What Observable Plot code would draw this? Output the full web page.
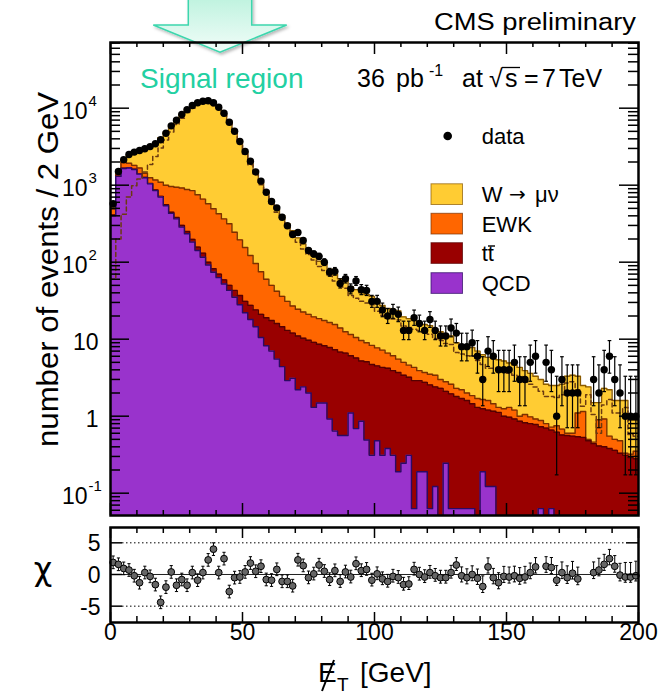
<!DOCTYPE html>
<html>
<head>
<meta charset="utf-8">
<script src="https://cdn.jsdelivr.net/npm/d3@7"></script>
<script src="https://cdn.jsdelivr.net/npm/@observablehq/plot@0.6"></script>
<style>
  html, body { margin: 0; padding: 0; background: #fff; }
  #wrap { position: relative; width: 664px; height: 694px; overflow: hidden; background: #fff; }
  #deco, #main, #ratio, #over { position: absolute; left: 0; }
  #deco { top: 0; }
  #main { top: 0; }
  #ratio { top: 520px; }
  #over { top: 0; }
  svg text { font-family: "Liberation Sans", Arial, Helvetica, sans-serif; }
</style>
</head>
<body>
<div id="wrap">
  <svg id="deco" width="664" height="120"></svg>
  <div id="main"></div>
  <div id="ratio"></div>
  <svg id="over" width="664" height="694"></svg>
</div>
<script>
// ================= DATA =================
const binWidthGeV = 2;   // 100 bins, 0..200 GeV

// stacked histogram tops (cumulative, as drawn): QCD, +ttbar, +EWK, +W->munu
const stackTopQCD = [
  400, 1300, 1650, 1670, 1600, 1390, 1250, 1040, 850, 700,
  540, 430, 365, 285, 234, 182, 142, 116, 92, 74,
  63, 52, 43, 35, 28, 22, 18, 14.5, 10.5, 8.2,
  7.0, 5.5, 4.4, 2.9, 3.1, 2.2, 2.4, 2.0, 1.3, 1.48,
  1.48, 0.92, 0.64, 0.56, 0.56, 1.1, 0.69, 0.86, 0.49, 0.31,
  0.48, 0.31, 0.38, 0.31, 0.19, 0.245, 0.31, 0.063, 0.19, 0.19,
  0.063, 0.122, 0, 0.245, 0.063, 0.063, 0.063, 0.063, 0.063, 0,
  0.19, 0.122, 0.122, 0, 0, 0, 0, 0, 0, 0,
  0, 0.063, 0, 0.063, 0, 0, 0, 0, 0, 0,
  0, 0, 0, 0, 0, 0, 0, 0, 0, 0];
const stackTopTT = [
  410, 1310, 1660, 1680, 1612, 1402, 1263, 1054, 865, 716,
  556, 446, 381, 301, 250, 198, 157, 131, 100, 82,
  70, 59, 50, 43, 37, 31, 27.5, 24, 21, 19,
  17.5, 16, 14.5, 13, 12, 11, 10.3, 9.7, 9.1, 8.6,
  8.2, 7.8, 7.3, 6.8, 6.6, 6.1, 5.7, 5.2, 5.1, 4.7,
  4.5, 4.3, 4.2, 3.9, 3.7, 3.4, 3.2, 2.9, 2.9, 2.75,
  2.55, 2.4, 2.3, 2.1, 1.95, 1.8, 1.7, 1.6, 1.45, 1.3,
  1.25, 1.2, 1.16, 1.12, 1.0, 0.97, 0.92, 0.86, 0.82, 0.8,
  0.78, 0.73, 0.7, 0.66, 0.62, 0.57, 0.56, 0.55, 0.54, 0.53,
  0.48, 0.44, 0.41, 0.40, 0.38, 0.36, 0.33, 0.31, 0.29, 0.28];
const stackTopEWK = [
  490, 1390, 1990, 1930, 1810, 1670, 1430, 1250, 1170, 1090,
  1000, 960, 940, 920, 880, 850, 750, 660, 575, 495,
  425, 365, 315, 245, 195, 155, 122, 96, 75, 60,
  50, 42, 36, 31, 27, 24.5, 22.5, 21, 19.5, 18.5,
  17.5, 16.5, 15.5, 14, 12.5, 11.5, 10.5, 9.6, 9.0, 8.3,
  7.7, 7.2, 6.6, 6.1, 5.5, 5.0, 4.6, 4.3, 3.9, 3.7,
  3.5, 3.4, 3.0, 2.8, 2.6, 2.3, 2.2, 2.0, 1.85, 1.7,
  1.65, 1.6, 1.45, 1.3, 1.25, 1.3, 1.2, 1.0, 1.05, 0.98,
  0.92, 0.88, 0.8, 0.72, 0.75, 0.68, 0.6, 0.6, 1.1, 1.15,
  0.5, 0.46, 0.9, 0.92, 0.55, 0.5, 0.48, 0.33, 0.32, 0.35];
const stackTopW = [
  520, 1445, 2150, 2470, 2700, 2890, 2955, 3187, 3544, 4150,
  4870, 5870, 7120, 8350, 9700, 10810, 11850, 12300, 12220, 11320,
  10270, 8380, 6800, 5055, 3725, 2720, 1970, 1470, 1086, 834,
  636, 490, 405, 316, 256, 207, 172, 148, 127, 103,
  95, 81, 71, 61, 58, 48, 44, 40, 38, 36,
  30.5, 27.4, 25, 24.4, 23.3, 19.5, 18.5, 17.5, 16.5, 15.5,
  15, 13.5, 12.5, 11.5, 11, 9, 8.5, 8, 7.8, 7,
  6.3, 5.8, 5.6, 5.4, 5.2, 4.9, 4.6, 4.3, 3.9, 3.6,
  3.3, 3.0, 2.6, 2.5, 2.5, 2.6, 3.3, 3.4, 3.3, 2.5,
  2.4, 1.5, 1.5, 2.3, 2.2, 1.6, 1.6, 1.6, 0.9, 0.9];
// dashed curve (W -> mu nu shape, unstacked)
const signalShape = [
  60, 200, 420, 700, 980, 1200, 1480, 1850, 2350, 3050,
  3850, 4900, 6150, 7400, 8800, 9950, 11000, 11550, 11550, 10750,
  9800, 7950, 6420, 4750, 3500, 2550, 1840, 1370, 1010, 770,
  580, 445, 365, 283, 228, 182, 148, 126, 107, 88,
  78, 66, 57, 48, 46, 37, 34, 31, 29.5, 28,
  23, 20.5, 18.7, 18.3, 17.8, 14.8, 14.2, 13.5, 13, 12.2,
  11.6, 10.2, 9.6, 8.8, 8.5, 6.7, 6.4, 6.1, 6, 5.3,
  4.7, 4.2, 4.2, 4.1, 4.0, 3.6, 3.4, 3.3, 2.85, 2.6,
  2.4, 2.1, 1.8, 1.8, 1.75, 1.9, 2.7, 2.8, 2.2, 1.35,
  1.9, 1.05, 0.6, 1.4, 1.65, 1.1, 1.1, 1.3, 0.58, 0.55];
// observed events per bin
const dataCounts = [
  573, 1506, 2140, 2505, 2690, 2820, 2970, 3170, 3450, 3890,
  4730, 5900, 6980, 8280, 9530, 10840, 11750, 12330, 12480, 11750,
  10300, 8610, 6580, 5020, 3700, 2740, 2050, 1490, 1130, 811,
  614, 508, 384, 297, 229, 243, 191, 142, 128, 119,
  100, 74, 76, 53, 61, 45, 57, 44, 43, 31,
  31, 24, 20, 23, 21, 13, 13, 19, 16, 13,
  18, 13, 11, 11, 14, 12, 8, 8, 9, 6,
  3, 7, 6, 4, 4, 4, 5, 3, 3, 5,
  6, 0, 5, 4, 1, 3, 2, 2, 2, 0,
  0, 3, 2, 4, 6, 3, 2, 1, 1, 1];
// pull (chi) per bin, null = not drawn
const chiValues = [
  1.9, 1.6, 0.95, 0.7, -0.2, -1.3, 0.3, -0.3, -1.6, -4.4,
  -2.0, 0.4, -1.7, -0.8, -1.7, 0.3, -0.9, 0.3, 2.3, 4.0,
  0.3, 2.5, -2.7, -0.5, -0.4, 0.4, 1.8, 0.5, 1.3, -0.8,
  -0.9, 0.8, -1.1, -1.1, -1.8, 2.3, 1.4, -0.5, 0.1, 1.5,
  0.5, -0.8, 0.6, -1.1, 0.4, -0.4, 1.7, 0.6, 0.8, -0.9,
  0.1, -0.7, -1.1, -0.3, -0.5, -1.6, -1.5, 0.8, 0, -0.4,
  0.3, -0.2, -0.5, -0.5, 0.3, 1.5, -0.2, -0.5, 0, -0.6,
  -1.9, 1.2, -0.5, -1.3, -0.3, -0.4, -0.2, -0.6, -0.4, 0.3,
  1.2, null, 1.3, 1.1, -0.9, 0.3, -0.5, 0.2, -0.7, null,
  null, 0.3, 0.7, 1.6, 2.5, 1.3, -0.1, -0.4, -0.4, -0.2];
// Garwood 68% Poisson intervals for small counts
const garwoodLo = [0, 0.173, 0.708, 1.367, 2.086, 2.840, 3.620, 4.419, 5.232, 6.057, 6.891];
const garwoodHi = [1.841, 3.300, 4.638, 5.918, 7.163, 8.382, 9.584, 10.77, 11.95, 13.11, 14.27];

// ticks / labels
const xMajorTicks = [0, 50, 100, 150, 200];
const xTickLabels = ["0", "50", "100", "150", "200"];
const yDecadeTicks = [10000, 1000, 100, 10, 1, 0.1];
const yTickBase = ["10", "10", "10", "10", "1", "10"];
const yTickExp = ["4", "3", "2", "", "", "-1"];
const chiTicks = [5, 0, -5];
const chiTickLabels = ["5", "0", "-5"];

const legendNames = ["W", "EWK", "tt", "QCD"];
const fillColors = ["#ffcc33", "#ff6600", "#990000", "#9933cc"];
const lineColors = ["#8a5a00", "#7a3000", "#550000", "#2b0a63"];

// ================= BUILD =================
const FONT = '"Liberation Sans", Arial, Helvetica, sans-serif';
const FLOOR = 0.02;
const edges = d3.range(0, 200 + binWidthGeV, binWidthGeV);
const centers = edges.slice(0, -1).map(e => e + binWidthGeV / 2);
const steps = vals => edges.map((x, i) => ({x, y: Math.max(vals[Math.min(i, vals.length - 1)], FLOOR)}));
const poisLo = n => n <= 10 ? garwoodLo[n] : n + 0.5 - Math.sqrt(n + 0.25);
const poisHi = n => n <= 10 ? garwoodHi[n] : n + 0.5 + Math.sqrt(n + 0.25);

const W = 664, H = 520, ML = 110, MR = 26, MT = 42, MB = 5;
const FW = W - ML - MR, FH = H - MT - MB;
const Y0 = 0.0513, Y1 = 71290;

const stacks = [stackTopW, stackTopEWK, stackTopTT, stackTopQCD];
const mainMarks = [];
stacks.forEach((vals, k) => {
  const pts = steps(vals);
  mainMarks.push(Plot.areaY(pts, {x: "x", y1: FLOOR, y2: "y", curve: "step-after", fill: fillColors[k], clip: true}));
  mainMarks.push(Plot.lineY(pts, {x: "x", y: "y", curve: "step-after", stroke: lineColors[k], strokeWidth: 1.4, clip: true}));
});
mainMarks.push(Plot.lineY(steps(signalShape), {x: "x", y: "y", curve: "step-after", stroke: "#6b3a10", strokeWidth: 1.5, strokeDasharray: "4,3", clip: true}));

const dataPts = centers.map((xc, i) => ({xc, n: Math.round(dataCounts[i])}))
  .filter(d => d.n > 0)
  .map(d => ({...d, lo: Math.max(poisLo(d.n), FLOOR), hi: poisHi(d.n)}));
mainMarks.push(
  Plot.link(dataPts, {x1: "xc", x2: "xc", y1: "lo", y2: "hi", stroke: "black", strokeWidth: 1.2, clip: true}),
  Plot.link(dataPts, {x1: d => d.xc - 0.7, x2: d => d.xc + 0.7, y1: "hi", y2: "hi", stroke: "black", strokeWidth: 1.2, clip: true}),
  Plot.link(dataPts, {x1: d => d.xc - 0.7, x2: d => d.xc + 0.7, y1: "lo", y2: "lo", stroke: "black", strokeWidth: 1.2, clip: true}),
  Plot.dot(dataPts, {x: "xc", y: "n", r: 3.7, fill: "black"})
);

// ticks
const yMinor = [];
for (let e = -2; e <= 4; e++) for (let m = 2; m <= 9; m++) { const v = m * Math.pow(10, e); if (v > Y0 && v < Y1) yMinor.push(v); }
const xMinor = d3.range(0, 201, 10).filter(v => v % 50 !== 0);
mainMarks.push(
  Plot.tickY(yDecadeTicks, {y: d => d, insetRight: FW - 19, strokeWidth: 1.5}),
  Plot.tickY(yMinor, {y: d => d, insetRight: FW - 10, strokeWidth: 1.5}),
  Plot.tickY(yDecadeTicks, {y: d => d, insetLeft: FW - 19, strokeWidth: 1.5}),
  Plot.tickY(yMinor, {y: d => d, insetLeft: FW - 10, strokeWidth: 1.5}),
  Plot.tickX(xMajorTicks, {x: d => d, insetBottom: FH - 12, strokeWidth: 1.5}),
  Plot.tickX(xMinor, {x: d => d, insetBottom: FH - 5, strokeWidth: 1.5}),
  Plot.tickX(xMajorTicks, {x: d => d, insetTop: FH - 12, strokeWidth: 1.5}),
  Plot.tickX(xMinor, {x: d => d, insetTop: FH - 5, strokeWidth: 1.5}),
  Plot.frame({stroke: "black", strokeWidth: 2.5})
);
const yLab = yDecadeTicks.map((v, i) => ({v, base: yTickBase[i], exp: yTickExp[i]}));
mainMarks.push(
  Plot.text(yLab.filter(d => d.exp), {y: "v", text: "base", frameAnchor: "left", textAnchor: "end", dx: -23, dy: 3, fontSize: 23}),
  Plot.text(yLab.filter(d => d.exp), {y: "v", text: "exp", frameAnchor: "left", textAnchor: "start", dx: -22, dy: -7, fontSize: 15}),
  Plot.text(yLab.filter(d => !d.exp), {y: "v", text: "base", frameAnchor: "left", textAnchor: "end", dx: -12, dy: 3, fontSize: 23})
);

const mainPlot = Plot.plot({
  width: W, height: H, marginLeft: ML, marginRight: MR, marginTop: MT, marginBottom: MB,
  x: {domain: [0, 200], axis: null},
  y: {type: "log", domain: [Y0, Y1], axis: null},
  style: {fontFamily: FONT, fontSize: "23px", background: "transparent", overflow: "visible"},
  marks: mainMarks
});
document.getElementById("main").append(mainPlot);

// ratio panel
const RH = 174, RMT = 7, RMB = 72;
const RFH = RH - RMT - RMB;
const chiPts = centers.map((xc, i) => ({xc, c: chiValues[i], n: Math.round(dataCounts[i])}))
  .filter(d => d.c !== null && d.n > 0)
  .map(d => ({...d, up: d.c + (poisHi(d.n) - d.n) / Math.sqrt(d.n), dn: d.c - (d.n - poisLo(d.n)) / Math.sqrt(d.n)}));
const ratioPlot = Plot.plot({
  width: W, height: RH, marginLeft: ML, marginRight: MR, marginTop: RMT, marginBottom: RMB,
  x: {domain: [0, 200], axis: null},
  y: {domain: [-7.58, 7.42], axis: null},
  style: {fontFamily: FONT, fontSize: "23px", background: "transparent", overflow: "visible"},
  marks: [
    Plot.ruleY([5, -5], {stroke: "black", strokeWidth: 1, strokeDasharray: "1.5,2.5", insetLeft: 12, insetRight: 12}),
    Plot.ruleY([0], {stroke: "#222", strokeWidth: 1}),
    Plot.link(chiPts, {x1: "xc", x2: "xc", y1: "dn", y2: "up", stroke: "black", strokeWidth: 1, clip: true}),
    Plot.link(chiPts, {x1: d => d.xc - 0.6, x2: d => d.xc + 0.6, y1: "up", y2: "up", stroke: "black", strokeWidth: 1, clip: true}),
    Plot.link(chiPts, {x1: d => d.xc - 0.6, x2: d => d.xc + 0.6, y1: "dn", y2: "dn", stroke: "black", strokeWidth: 1, clip: true}),
    Plot.dot(chiPts, {x: "xc", y: "c", r: 3.4, fill: "#666", stroke: "black", strokeWidth: 1}),
    Plot.tickY(chiTicks, {y: d => d, insetRight: FW - 12, strokeWidth: 1.5}),
    Plot.tickY(chiTicks, {y: d => d, insetLeft: FW - 12, strokeWidth: 1.5}),
    Plot.tickX(xMajorTicks, {x: d => d, insetBottom: RFH - 11, strokeWidth: 1.5}),
    Plot.tickX(xMinor, {x: d => d, insetBottom: RFH - 6, strokeWidth: 1.5}),
    Plot.tickX(xMajorTicks, {x: d => d, insetTop: RFH - 10, strokeWidth: 1.5}),
    Plot.tickX(xMinor, {x: d => d, insetTop: RFH - 6, strokeWidth: 1.5}),
    Plot.frame({stroke: "black", strokeWidth: 2.5}),
    Plot.text(chiTicks, {y: d => d, text: (d, i) => chiTickLabels[i], frameAnchor: "left", textAnchor: "end", dx: -10, dy: 1, fontSize: 23}),
    Plot.text(xMajorTicks, {x: d => d, text: (d, i) => xTickLabels[i], frameAnchor: "bottom", dy: 17, fontSize: 23})
  ]
});
document.getElementById("ratio").append(ratioPlot);

// decorations: arrow (behind plot frame)
document.getElementById("deco").innerHTML = `
<defs>
  <linearGradient id="ag" x1="0" y1="0" x2="0" y2="1">
    <stop offset="0" stop-color="#bdf2de"/><stop offset="1" stop-color="#f2fdf9"/>
  </linearGradient>
  <filter id="sh" x="-20%" y="-20%" width="140%" height="170%">
    <feDropShadow dx="1.5" dy="2" stdDeviation="1.5" flood-color="#000" flood-opacity="0.28"/>
  </filter>
</defs>
<path d="M188.3,-4 L251.7,-4 L251.7,25 L286.7,25 L220,52.3 L153.3,25 L188.3,25 Z"
  fill="url(#ag)" stroke="#3cd6ad" stroke-width="1.5" stroke-linejoin="miter" filter="url(#sh)"/>`;

// overlay texts and legend
const legY = [183.8, 213.3, 242.7, 272.7];
const legText = legendNames.map((t, k) =>
  `<rect x="431" y="${legY[k]}" width="31.5" height="20.7" fill="${fillColors[k]}" stroke="${lineColors[k]}" stroke-opacity="0.7" stroke-width="1"/>
   <text x="481.7" y="${legY[k] + 18.3}" font-size="22">${t}</text>`).join("");
document.getElementById("over").innerHTML = `
<text x="636" y="29.5" text-anchor="end" font-size="23" textLength="202" lengthAdjust="spacingAndGlyphs">CMS preliminary</text>
<text x="140" y="88.3" font-size="28" fill="#22d0a2">Signal region</text>
<text y="87.3" font-size="25"><tspan x="357">36</tspan><tspan x="396">pb</tspan></text>
<text x="429" y="76" font-size="16">-1</text>
<text y="87.3" font-size="25"><tspan x="462">at</tspan><tspan x="489">\u221a</tspan><tspan x="505">s</tspan><tspan x="524">=</tspan><tspan x="542">7</tspan><tspan x="559">TeV</tspan></text>
<line x1="502" y1="67.5" x2="520" y2="67.5" stroke="black" stroke-width="1.3"/>
<circle cx="447.7" cy="136" r="4.3" fill="black"/>
<text x="481.7" y="144" font-size="22">data</text>
${legText}
<text x="509" y="${legY[0] + 17.5}" font-size="20" style="font-family:'DejaVu Sans'">\u2192</text>
<text x="535" y="${legY[0] + 18.3}" font-size="22">\u03bc\u03bd</text>
<line x1="488" y1="246" x2="495" y2="246" stroke="black" stroke-width="1.4"/>
<text transform="translate(58,269.5) rotate(-90)" text-anchor="middle" font-size="29" textLength="355" lengthAdjust="spacingAndGlyphs">number of events / 2 GeV</text>
<text x="43" y="580" text-anchor="middle" font-size="32" style="font-family:'DejaVu Sans'">\u03c7</text>
<text x="318" y="682" font-size="28">E</text>
<line x1="322" y1="691" x2="334" y2="660" stroke="black" stroke-width="2"/>
<text x="337" y="691" font-size="19">T</text>
<text x="360" y="682" font-size="28">[GeV]</text>
`;
</script>
</body>
</html>
